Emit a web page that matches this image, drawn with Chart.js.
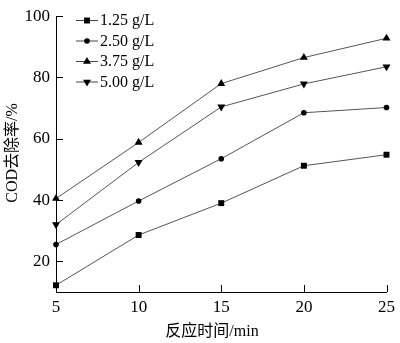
<!DOCTYPE html>
<html>
<head>
<meta charset="utf-8">
<script src="https://cdn.jsdelivr.net/npm/chart.js@4/dist/chart.umd.min.js"></script>
<style>
  html, body { margin: 0; padding: 0; background: #fff; }
  #wrap { width: 400px; height: 343px; }
</style>
</head>
<body>
<div id="wrap"><canvas id="mycanvas" width="400" height="343"></canvas></div>
<script>
var times = [5, 10, 15, 20, 25];
var seriesNames = ['1.25 g/L', '2.50 g/L', '3.75 g/L', '5.00 g/L'];
var cod125 = [12.2, 28.6, 39.0, 51.2, 54.8];
var cod250 = [25.5, 39.7, 53.5, 68.5, 70.2];
var cod375 = [40.5, 58.8, 78.0, 86.5, 92.8];
var cod500 = [32.0, 52.3, 70.4, 77.9, 83.5];
var yTicks = [20, 40, 60, 80, 100];
var xTicks = [10, 15, 20, 25];

var serif = '"Liberation Serif", "Times New Roman", "Noto Sans CJK SC", serif';
var markers = [
  { style: 'rect', radius: 4.2, rotation: 0 },
  { style: 'circle', radius: 2.8, rotation: 0 },
  { style: 'triangle', radius: 4.6, rotation: 0 },
  { style: 'triangle', radius: 4.6, rotation: 180 }
];
var allValues = [cod125, cod250, cod375, cod500];

var datasets = allValues.map(function(vals, i) {
  return {
    label: seriesNames[i],
    data: vals.map(function(v, j) { return { x: times[j], y: v }; }),
    borderColor: '#555',
    borderWidth: 1,
    backgroundColor: '#000',
    pointBackgroundColor: '#000',
    pointBorderColor: '#000',
    pointBorderWidth: 0,
    pointStyle: markers[i].style,
    pointRotation: markers[i].rotation,
    pointRadius: markers[i].radius,
    tension: 0,
    clip: false
  };
});

// inward tick marks, legend and axis titles
var decorations = {
  id: 'decorations',
  afterDraw: function(chart) {
    var ctx = chart.ctx;
    var xs = chart.scales.x, ys = chart.scales.y;
    var area = chart.chartArea;
    ctx.save();
    ctx.strokeStyle = '#000';
    ctx.lineWidth = 1;
    ctx.beginPath();
    yTicks.forEach(function(t) {
      var py = Math.round(ys.getPixelForValue(t)) + 0.5;
      ctx.moveTo(area.left, py);
      ctx.lineTo(area.left + 7, py);
    });
    xTicks.forEach(function(t) {
      var px = Math.round(xs.getPixelForValue(t)) + 0.5;
      ctx.moveTo(px, area.bottom);
      ctx.lineTo(px, area.bottom - 7);
    });
    ctx.stroke();

    // legend
    ctx.font = '16px ' + serif;
    ctx.textAlign = 'left';
    ctx.textBaseline = 'middle';
    seriesNames.forEach(function(name, i) {
      var ly = 20 + i * 20.5;
      ctx.strokeStyle = '#444';
      ctx.beginPath();
      ctx.moveTo(76, ly + 0.5);
      ctx.lineTo(98, ly + 0.5);
      ctx.stroke();
      ctx.fillStyle = '#000';
      Chart.helpers.drawPoint(ctx, {
        pointStyle: markers[i].style,
        rotation: markers[i].rotation,
        radius: markers[i].radius,
        borderWidth: 0
      }, 87, ly + 0.5);
      ctx.fillStyle = '#000';
      ctx.fillText(name, 100, ly + 1);
    });

    // axis titles
    ctx.textAlign = 'center';
    ctx.fillText('反应时间/min', 212, 332);
    ctx.translate(13, 153);
    ctx.rotate(-Math.PI / 2);
    ctx.fillText('COD去除率/%', 0, 0);
    ctx.restore();
  }
};

var ctx = document.getElementById('mycanvas');
var dashboard = new Chart(ctx, {
  type: 'line',
  data: { datasets: datasets },
  plugins: [decorations],
  options: {
    responsive: false,
    animation: false,
    layout: { padding: { top: 7, right: 9, left: 0, bottom: 0 } },
    plugins: { legend: { display: false }, tooltip: { enabled: false } },
    scales: {
      x: {
        type: 'linear',
        min: 5,
        max: 25,
        afterFit: function(s) { s.height = 51; },
        grid: { display: false, drawTicks: false },
        border: { display: true, color: '#000', width: 1 },
        ticks: {
          stepSize: 5,
          padding: 5,
          color: '#000',
          font: { family: serif, size: 17 },
          maxRotation: 0
        }
      },
      y: {
        min: 10,
        max: 100,
        afterFit: function(s) { s.width = 56; },
        afterBuildTicks: function(s) {
          s.ticks = yTicks.map(function(v) { return { value: v }; });
        },
        grid: { display: false, drawTicks: false },
        border: { display: true, color: '#000', width: 1 },
        ticks: {
          padding: 6,
          color: '#000',
          font: { family: serif, size: 17 }
        }
      }
    }
  }
});
</script>
</body>
</html>
